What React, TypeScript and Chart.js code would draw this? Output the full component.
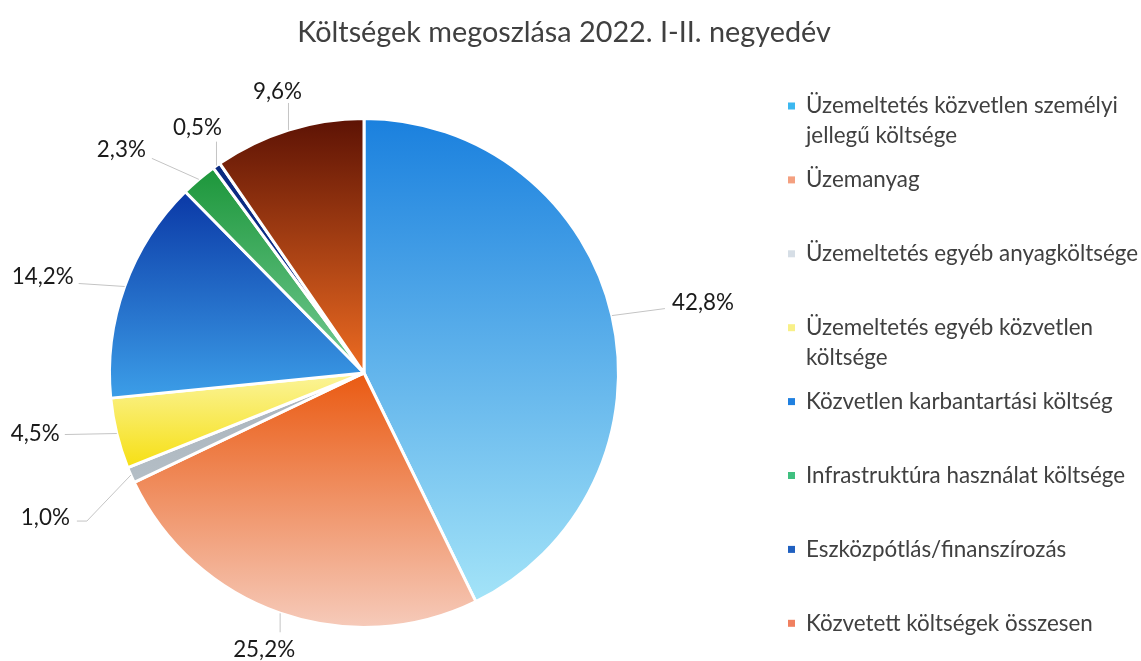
import React, { useEffect, useRef } from "react";
import { Chart, registerables } from "chart.js";

Chart.register(...registerables);

const TITLE = "Költségek megoszlása 2022. I-II. negyedév";

const categories = [
  "Üzemeltetés közvetlen személyi jellegű költsége",
  "Üzemanyag",
  "Üzemeltetés egyéb anyagköltsége",
  "Üzemeltetés egyéb közvetlen költsége",
  "Közvetlen karbantartási költség",
  "Infrastruktúra használat költsége",
  "Eszközpótlás/finanszírozás",
  "Közvetett költségek összesen",
];

const legendLines = [
  ["Üzemeltetés közvetlen személyi", "jellegű költsége"],
  ["Üzemanyag"],
  ["Üzemeltetés egyéb anyagköltsége"],
  ["Üzemeltetés egyéb közvetlen", "költsége"],
  ["Közvetlen karbantartási költség"],
  ["Infrastruktúra használat költsége"],
  ["Eszközpótlás/finanszírozás"],
  ["Közvetett költségek összesen"],
];

const values = [42.8, 25.2, 1.0, 4.5, 14.2, 2.3, 0.5, 9.6];

// gradient top / bottom colours per slice
const gradTop = ["#1a80de", "#ea5a12", "#a9b3bb", "#fbf49a", "#0a38a6", "#1c963a", "#0a2a80", "#5c1204"];
const gradBottom = ["#a4e4f8", "#f6cbbb", "#b4bec6", "#f6df12", "#3c9ee8", "#74cb94", "#0d3090", "#ee6c22"];
const legendColors = ["#3cb8f0", "#f4a080", "#d6dee6", "#f8f088", "#2080e0", "#40c080", "#2060c0", "#f08060"];

// label layout: offsets from slice anchor (on the outer edge at mid-angle)
const labelLayout = [
  { dx: 60, dy: -13, align: "left", line: [[53, -7]] },
  { dx: -16, dy: 36, align: "center", line: [[0, 19]] },
  { dx: -61, dy: 43, align: "right", line: [[-44, 46], [-54, 46]] },
  { dx: -57, dy: 0, align: "right", line: [[-52, 1]] },
  { dx: -51, dy: -10, align: "right", line: [[-46, -3]] },
  { dx: -53, dy: -30, align: "right", line: [[-47, -21]] },
  { dx: -19, dy: -38, align: "center", line: [[0, -24]] },
  { dx: -11, dy: -38, align: "center", line: [[0, -27]] },
];

const FONT = "Lato, 'Open Sans', sans-serif";

function sliceGradient(context: any) {
  const chart = context.chart;
  const i = context.dataIndex;
  const area = chart.chartArea;
  if (!area) return gradTop[i];
  const cx = (area.left + area.right) / 2;
  const cy = (area.top + area.bottom) / 2;
  const r = Math.min(area.right - area.left, area.bottom - area.top) / 2;
  const total = values.reduce((a, b) => a + b, 0);
  let start = -Math.PI / 2;
  for (let k = 0; k < i; k++) start += (values[k] / total) * Math.PI * 2;
  const end = start + (values[i] / total) * Math.PI * 2;
  let minY = cy;
  let maxY = cy;
  for (let s = 0; s <= 60; s++) {
    const a = start + ((end - start) * s) / 60;
    const y = cy + Math.sin(a) * r;
    minY = Math.min(minY, y);
    maxY = Math.max(maxY, y);
  }
  if (maxY - minY < 1) maxY = minY + 1;
  const g = chart.ctx.createLinearGradient(0, minY, 0, maxY);
  g.addColorStop(0, gradTop[i]);
  g.addColorStop(1, gradBottom[i]);
  return g;
}

const decorPlugin = {
  id: "decor",
  afterDraw(chart: any) {
    const ctx = chart.ctx;
    ctx.save();
    // title
    ctx.fillStyle = "#404040";
    ctx.font = `28.8px ${FONT}`;
    ctx.textAlign = "center";
    ctx.textBaseline = "middle";
    ctx.fillText(TITLE, 564, 33);

    // data labels
    const meta = chart.getDatasetMeta(0);
    meta.data.forEach((el: any, i: number) => {
      const p = el.getProps(["x", "y", "startAngle", "endAngle", "outerRadius"], true);
      const mid = (p.startAngle + p.endAngle) / 2;
      const ax = p.x + Math.cos(mid) * p.outerRadius;
      const ay = p.y + Math.sin(mid) * p.outerRadius;
      const lay = labelLayout[i];
      ctx.strokeStyle = "#c4c4c4";
      ctx.lineWidth = 1;
      ctx.beginPath();
      ctx.moveTo(ax, ay);
      lay.line.forEach((pt) => ctx.lineTo(ax + pt[0], ay + pt[1]));
      ctx.stroke();
      ctx.fillStyle = "#1a1a1a";
      ctx.font = `22.4px ${FONT}`;
      ctx.textAlign = lay.align;
      ctx.textBaseline = "middle";
      ctx.fillText(values[i].toFixed(1).replace(".", ",") + "%", ax + lay.dx, ay + lay.dy);
    });

    // legend
    const lx = 788;
    const tx = 806;
    const y0 = 106;
    const step = 73.9;
    const lh = 30;
    ctx.font = `22.4px ${FONT}`;
    ctx.textAlign = "left";
    ctx.textBaseline = "middle";
    legendLines.forEach((lines, i) => {
      const y = y0 + step * i;
      ctx.fillStyle = legendColors[i];
      ctx.fillRect(lx, y - 3.5, 7, 7);
      ctx.fillStyle = "#404040";
      lines.forEach((t, j) => ctx.fillText(t, tx, y + j * lh));
    });
    ctx.restore();
  },
};

export default function App() {
  const ref = useRef<HTMLCanvasElement>(null);
  useEffect(() => {
    const canvas = ref.current;
    if (!canvas) return;
    const chart = new Chart(canvas, {
      type: "pie",
      data: {
        labels: categories,
        datasets: [
          {
            data: values,
            backgroundColor: sliceGradient as any,
            borderColor: "#ffffff",
            borderWidth: 3,
          },
        ],
      },
      options: {
        responsive: false,
        animation: false,
        layout: { padding: { top: 117, bottom: 32, left: 108, right: 521 } },
        plugins: {
          legend: { display: false },
          title: { display: false },
          tooltip: { enabled: false },
        },
      },
      plugins: [decorPlugin],
    });
    return () => chart.destroy();
  }, []);
  return (
    <div style={{ position: "absolute", left: 0, top: 0, width: 1141, height: 661, background: "#fff" }}>
      <canvas ref={ref} width={1141} height={661} />
    </div>
  );
}
